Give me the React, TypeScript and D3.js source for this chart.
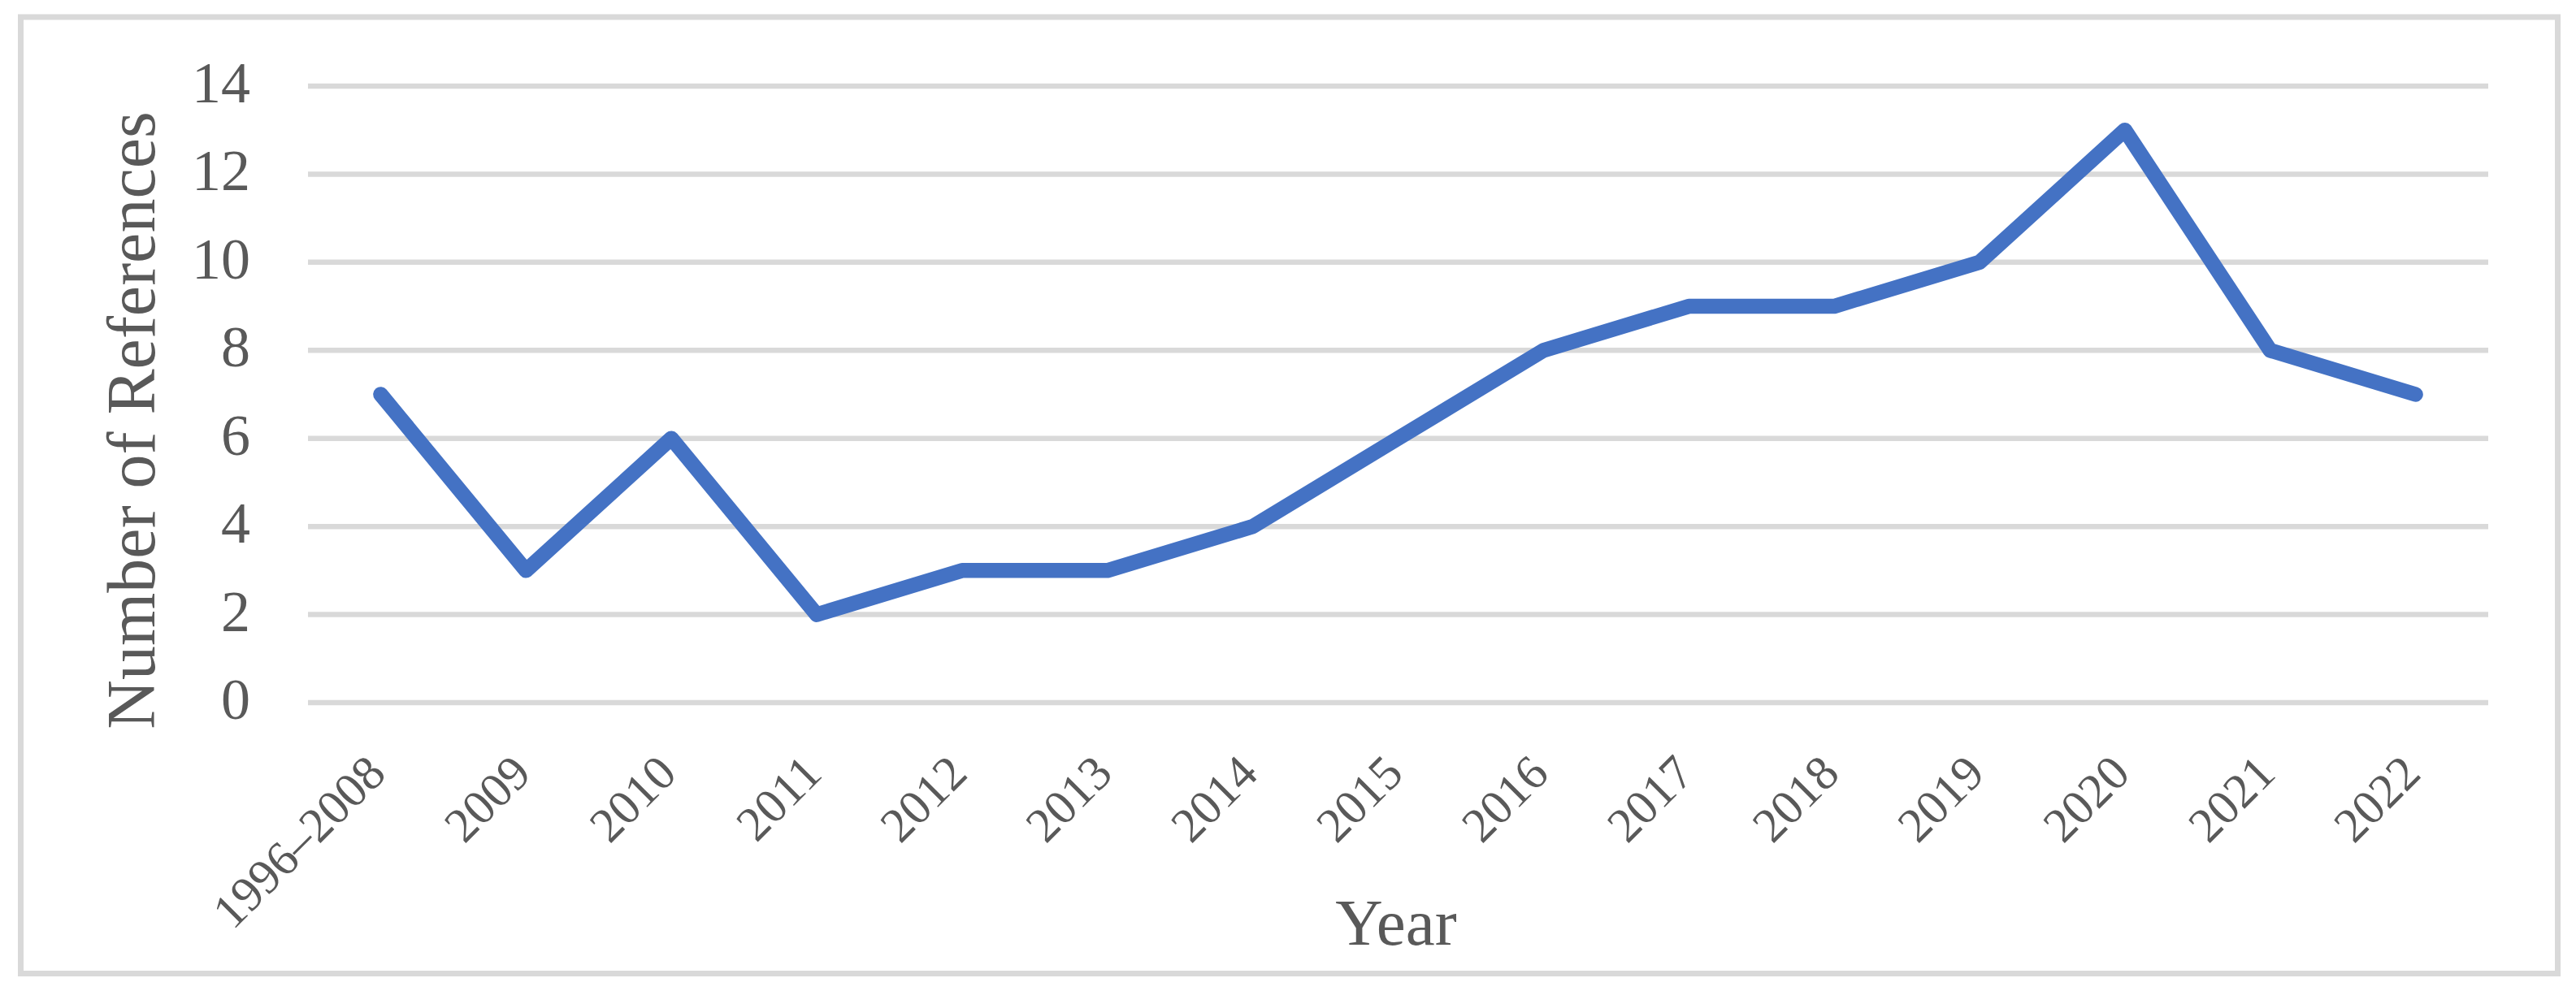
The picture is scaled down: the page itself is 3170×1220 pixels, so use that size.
import React from "react";
import * as d3 from "d3";

const categories: string[] = [
  "1996–2008", "2009", "2010", "2011", "2012", "2013", "2014", "2015",
  "2016", "2017", "2018", "2019", "2020", "2021", "2022",
];
const references: number[] = [7, 3, 6, 2, 3, 3, 4, 6, 8, 9, 9, 10, 13, 8, 7];
const yTicks: number[] = [0, 2, 4, 6, 8, 10, 12, 14];
const yTitle = "Number of References";
const xTitle = "Year";

const W = 3170;
const H = 1220;
const FONT = "'Liberation Serif', 'Times New Roman', serif";
const TEXT = "#595959";
const GRID = "#d9d9d9";
const LINE = "#4472C4";

export default function App() {
  const x = d3.scalePoint<string>().domain(categories).range([379, 3062]).padding(0.5);
  const y = d3.scaleLinear().domain([0, 14]).range([865, 106]);
  const line = d3
    .line<number>()
    .x((_, i) => x(categories[i]) as number)
    .y((d) => y(d));
  const path = line(references) || "";

  return (
    <svg
      width={W}
      height={H}
      viewBox={`0 0 ${W} ${H}`}
      style={{ position: "absolute", left: 0, top: 0, display: "block", background: "#fff" }}
    >
      <rect x={0} y={0} width={W} height={H} fill="#fff" />
      <rect x={25.5} y={21} width={3122} height={1177.5} fill="none" stroke={GRID} strokeWidth={7} />
      {yTicks.map((t) => (
        <g key={t}>
          <line x1={379} x2={3062} y1={y(t)} y2={y(t)} stroke={GRID} strokeWidth={6.5} />
          <text
            x={308}
            y={y(t) + 20}
            textAnchor="end"
            fontFamily={FONT}
            fontSize={72}
            fill={TEXT}
          >
            {t}
          </text>
        </g>
      ))}
      <path
        d={path}
        fill="none"
        stroke={LINE}
        strokeWidth={18.5}
        strokeLinejoin="round"
        strokeLinecap="round"
      />
      {categories.map((c) => (
        <text
          key={c}
          transform={`translate(${(x(c) as number) + 9}, 955) rotate(-45)`}
          textAnchor="end"
          fontFamily={FONT}
          fontSize={60}
          fill={TEXT}
        >
          {c}
        </text>
      ))}
      <text
        transform="translate(190, 517.5) rotate(-90)"
        textAnchor="middle"
        fontFamily={FONT}
        fontSize={84}
        fill={TEXT}
      >
        {yTitle}
      </text>
      <text x={1718} y={1163} textAnchor="middle" fontFamily={FONT} fontSize={81} fill={TEXT}>
        {xTitle}
      </text>
    </svg>
  );
}
